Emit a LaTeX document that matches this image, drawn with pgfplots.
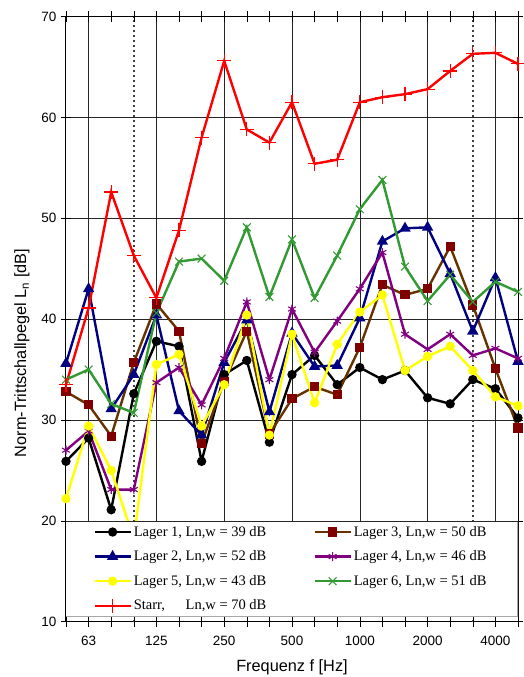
\documentclass[border=0pt]{standalone}
\usepackage{pgfplots}
\pgfplotsset{compat=1.18}
\usepackage{fontspec}
\setmainfont{Liberation Sans}
\newfontfamily\legfont{Liberation Serif}
\definecolor{lnavy}{RGB}{0,0,128}
\definecolor{lbrown}{RGB}{102,51,0}
\definecolor{ldred}{RGB}{128,0,0}
\definecolor{lpurple}{RGB}{128,0,128}
\definecolor{lyellow}{RGB}{255,255,0}
\definecolor{lgreen}{RGB}{51,153,51}
\begin{document}
\begin{tikzpicture}
\path[use as bounding box] (-66pt,-55.3pt) rectangle (458pt,621.7pt);
\begin{axis}[
  scale only axis, width=452pt, height=605.2pt,
  xmin=0, xmax=20, ymin=10, ymax=70,
  xtick={1,4,7,10,13,16,19}, xticklabels={63,125,250,500,1000,2000,4000},
  minor xtick={0,...,20},
  ytick={10,20,...,70},
  xmajorgrids, ymajorgrids,
  major grid style={black!85, line width=0.6pt},
  tick align=center, major tick length=10pt, minor tick length=10pt,
  tick style={black, line width=0.6pt},
  axis line style={black, line width=1pt},
  extra x ticks={3,18}, extra x tick labels={},
  extra x tick style={grid=major, major grid style={dash pattern=on 2pt off 3pt, line width=1.6pt, black!75}},
  /pgf/number format/assume math mode=true,
  tick label style={font=\fontsize{13.5}{15}\selectfont},
  label style={font=\fontsize{16.3}{18}\selectfont},
  xticklabel style={yshift=-5pt},
  xlabel={Frequenz f [Hz]},
  ylabel={Norm-Trittschallpegel L\textsubscript{n} [dB]},
  xlabel style={at={(axis description cs:0.5,-0.0752)}, anchor=center},
  ylabel style={at={(axis description cs:-0.0973,0.444)}, anchor=center},
  line width=2.4pt,
  legend columns=2,
  legend cell align=left,
  legend style={draw=none, fill=none, at={(0.058,0.163)}, anchor=north west, inner sep=0pt,
    font=\legfont\fontsize{14.5}{16}\selectfont, row sep=9pt,
    /tikz/every even column/.append style={column sep=45pt}},
  legend image code/.code={\draw[mark repeat=2,mark phase=2] plot coordinates {(0pt,0pt) (18pt,0pt) (36pt,0pt)};},
]
% Lager 1
\addplot[color=black, mark=*, mark size=3.4pt, mark options={solid}] coordinates {
(0,25.9) (1,28.2) (2,21.1) (3,32.6) (4,37.8) (5,37.3) (6,25.9) (7,34.5) (8,35.9) (9,27.8) (10,34.5)
(11,36.4) (12,33.5) (13,35.2) (14,34.0) (15,34.9) (16,32.2) (17,31.6) (18,34.0) (19,33.1) (20,30.2)
};
\addlegendentry{Lager 1, Ln,w = 39 dB}
% Lager 3
\addplot[color=lbrown, mark=square*, mark size=3.4pt, mark options={solid, draw=ldred, fill=ldred}] coordinates {
(0,32.8) (1,31.5) (2,28.4) (3,35.7) (4,41.5) (5,38.8) (6,27.7) (7,33.8) (8,38.8) (9,28.6) (10,32.1)
(11,33.3) (12,32.5) (13,37.2) (14,43.4) (15,42.4) (16,43.0) (17,47.2) (18,41.4) (19,35.1) (20,29.2)
};
\addlegendentry{Lager 3, Ln,w = 50 dB}
% Lager 2
\addplot[color=lnavy, mark=triangle*, mark size=4.2pt, mark options={solid}] coordinates {
(0,35.6) (1,43.0) (2,31.1) (3,34.5) (4,40.4) (5,30.9) (6,28.5) (7,35.7) (8,39.9) (9,30.8) (10,38.6)
(11,35.3) (12,35.4) (13,40.1) (14,47.7) (15,49.0) (16,49.1) (17,44.5) (18,38.8) (19,44.1) (20,35.8)
};
\addlegendentry{Lager 2, Ln,w = 52 dB}
% Lager 4
\addplot[color=lpurple, mark=asterisk, mark size=4.5pt, mark options={solid, line width=1.1pt}] coordinates {
(0,27.0) (1,28.9) (2,23.1) (3,23.1) (4,33.7) (5,35.2) (6,31.5) (7,36.1) (8,41.7) (9,34.0) (10,41.0)
(11,36.7) (12,39.8) (13,43.0) (14,46.6) (15,38.5) (16,37.0) (17,38.5) (18,36.4) (19,37.1) (20,36.1)
};
\addlegendentry{Lager 4, Ln,w = 46 dB}
% Lager 5 (point at 100 Hz lies under the legend box)
\addplot[color=lyellow, mark=*, mark size=3.4pt, mark options={solid},
  mark indices={1,2,3,5,6,7,8,9,10,11,12,13,14,15,16,17,18,19,20,21},
  legend image post style={mark indices={2}}] coordinates {
(0,22.2) (1,29.4) (2,25.0) (3,18.2) (4,35.5) (5,36.5) (6,29.4) (7,33.5) (8,40.4) (9,28.5) (10,38.5)
(11,31.7) (12,37.5) (13,40.7) (14,42.4) (15,34.9) (16,36.3) (17,37.3) (18,34.9) (19,32.3) (20,31.4)
};
\addlegendentry{Lager 5, Ln,w = 43 dB}
% Lager 6
\addplot[color=lgreen, mark=x, mark size=5.5pt, mark options={solid, line width=1.1pt}] coordinates {
(0,34.0) (1,35.0) (2,31.6) (3,30.7) (4,40.6) (5,45.7) (6,46.0) (7,43.8) (8,49.1) (9,42.2) (10,47.9)
(11,42.1) (12,46.3) (13,50.9) (14,53.8) (15,45.2) (16,41.8) (17,44.4) (18,41.7) (19,43.7) (20,42.7)
};
\addlegendentry{Lager 6, Ln,w = 51 dB}
% Starr
\addplot[color=red, mark=+, mark size=7pt, mark options={solid, line width=1.1pt}] coordinates {
(0,33.5) (1,41.1) (2,52.6) (3,46.3) (4,42.1) (5,48.8) (6,58.0) (7,65.6) (8,58.8) (9,57.5) (10,61.5)
(11,55.4) (12,55.8) (13,61.5) (14,62.0) (15,62.3) (16,62.8) (17,64.6) (18,66.3) (19,66.4) (20,65.3)
};
\addlegendentry{\rlap{Starr,}\hphantom{Lager 1,} Ln,w = 70 dB}
% legend box
\fill[white] (axis cs:0,10.5) rectangle (axis cs:20,20);
\draw[gray!70, line width=1.5pt] (axis cs:0,10.5) -- (axis cs:20,10.5) -- (axis cs:20,20);
\draw[black!85, line width=0.6pt] (axis cs:0,20) -- (axis cs:20,20);
\draw[black, line width=1pt] (axis cs:0,10) -- (axis cs:0,20);
\end{axis}
\end{tikzpicture}
\end{document}
